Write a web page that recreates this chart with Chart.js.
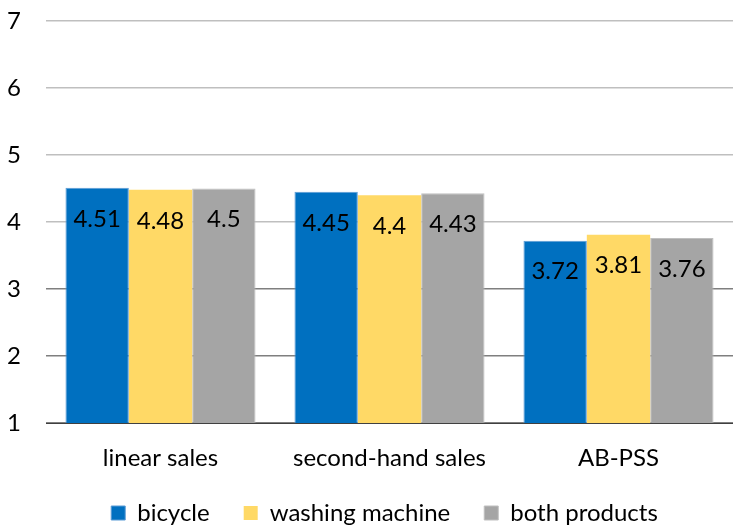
<!DOCTYPE html>
<html>
<head>
<meta charset="utf-8">
<script src="https://cdn.jsdelivr.net/npm/chart.js@4"></script>
<style>
  body { margin: 0; background: #fff; }
  #wrap { width: 733px; height: 526px; }
</style>
</head>
<body>
<div id="wrap"><canvas id="chart"></canvas></div>
<script>
// Data
const categories = ['linear sales', 'second-hand sales', 'AB-PSS'];
const bicycle = [4.51, 4.45, 3.72];
const washingMachine = [4.48, 4.4, 3.81];
const bothProducts = [4.5, 4.43, 3.76];

const FONT = 'Lato, "Open Sans", sans-serif';

// Value labels drawn inside the top of each bar
const barLabels = {
  id: 'barLabels',
  afterDatasetsDraw(chart) {
    const ctx = chart.ctx;
    ctx.save();
    ctx.font = '24px ' + FONT;
    ctx.fillStyle = '#000';
    ctx.textAlign = 'center';
    ctx.textBaseline = 'middle';
    chart.data.datasets.forEach((ds, i) => {
      chart.getDatasetMeta(i).data.forEach((bar, j) => {
        ctx.fillText(String(ds.data[j]), bar.x, bar.y + 31);
      });
    });
    ctx.restore();
  }
};

// Keep the legend short vertically and centre it under the plot area
const legendHeight = {
  id: 'legendHeight',
  beforeLayout(chart) {
    const lg = chart.legend;
    if (lg && !lg._fixed) {
      const fit = lg.fit.bind(lg);
      lg.fit = function () {
        fit();
        this.height = 59;
        this.lineWidths = this.lineWidths.map(w => w - 36);
      };
      lg._fixed = true;
    }
  }
};

new Chart(document.getElementById('chart'), {
  type: 'bar',
  data: {
    labels: categories,
    datasets: [
      { label: 'bicycle', data: bicycle, backgroundColor: '#0070C0', borderColor: '#5B9BD5', borderWidth: 1 },
      { label: 'washing machine', data: washingMachine, backgroundColor: '#FFD966', borderColor: '#FFD966', borderWidth: 0 },
      { label: 'both products', data: bothProducts, backgroundColor: '#A5A5A5', borderColor: '#BFBFBF', borderWidth: 1 }
    ]
  },
  options: {
    responsive: true,
    maintainAspectRatio: false,
    animation: false,
    layout: { padding: { top: 21, right: 0, left: 0, bottom: 0 } },
    datasets: { bar: { categoryPercentage: 0.83, barPercentage: 1 } },
    plugins: {
      legend: {
        position: 'bottom',
        labels: {
          font: { family: FONT, size: 24 },
          color: '#000',
          boxWidth: 14,
          boxHeight: 14,
          padding: 34
        }
      },
      tooltip: { enabled: false }
    },
    scales: {
      x: {
        grid: { display: false, drawTicks: false },
        border: { color: '#404040', width: 1 },
        ticks: { font: { family: FONT, size: 24 }, color: '#000', padding: 21 },
        afterFit: s => { s.height = 44; s.paddingLeft = 0; s.paddingRight = 0; }
      },
      y: {
        min: 1,
        max: 7,
        ticks: { stepSize: 1, font: { family: FONT, size: 24 }, color: '#000', padding: 25 },
        grid: {
          drawTicks: false,
          color: c => (c.tick.value <= 3 ? '#7F7F7F' : '#BFBFBF'),
          lineWidth: 1.5
        },
        border: { display: false },
        afterFit: s => { s.width = 46; s.paddingTop = 0; s.paddingBottom = 0; }
      }
    }
  },
  plugins: [barLabels, legendHeight]
});
</script>
</body>
</html>
